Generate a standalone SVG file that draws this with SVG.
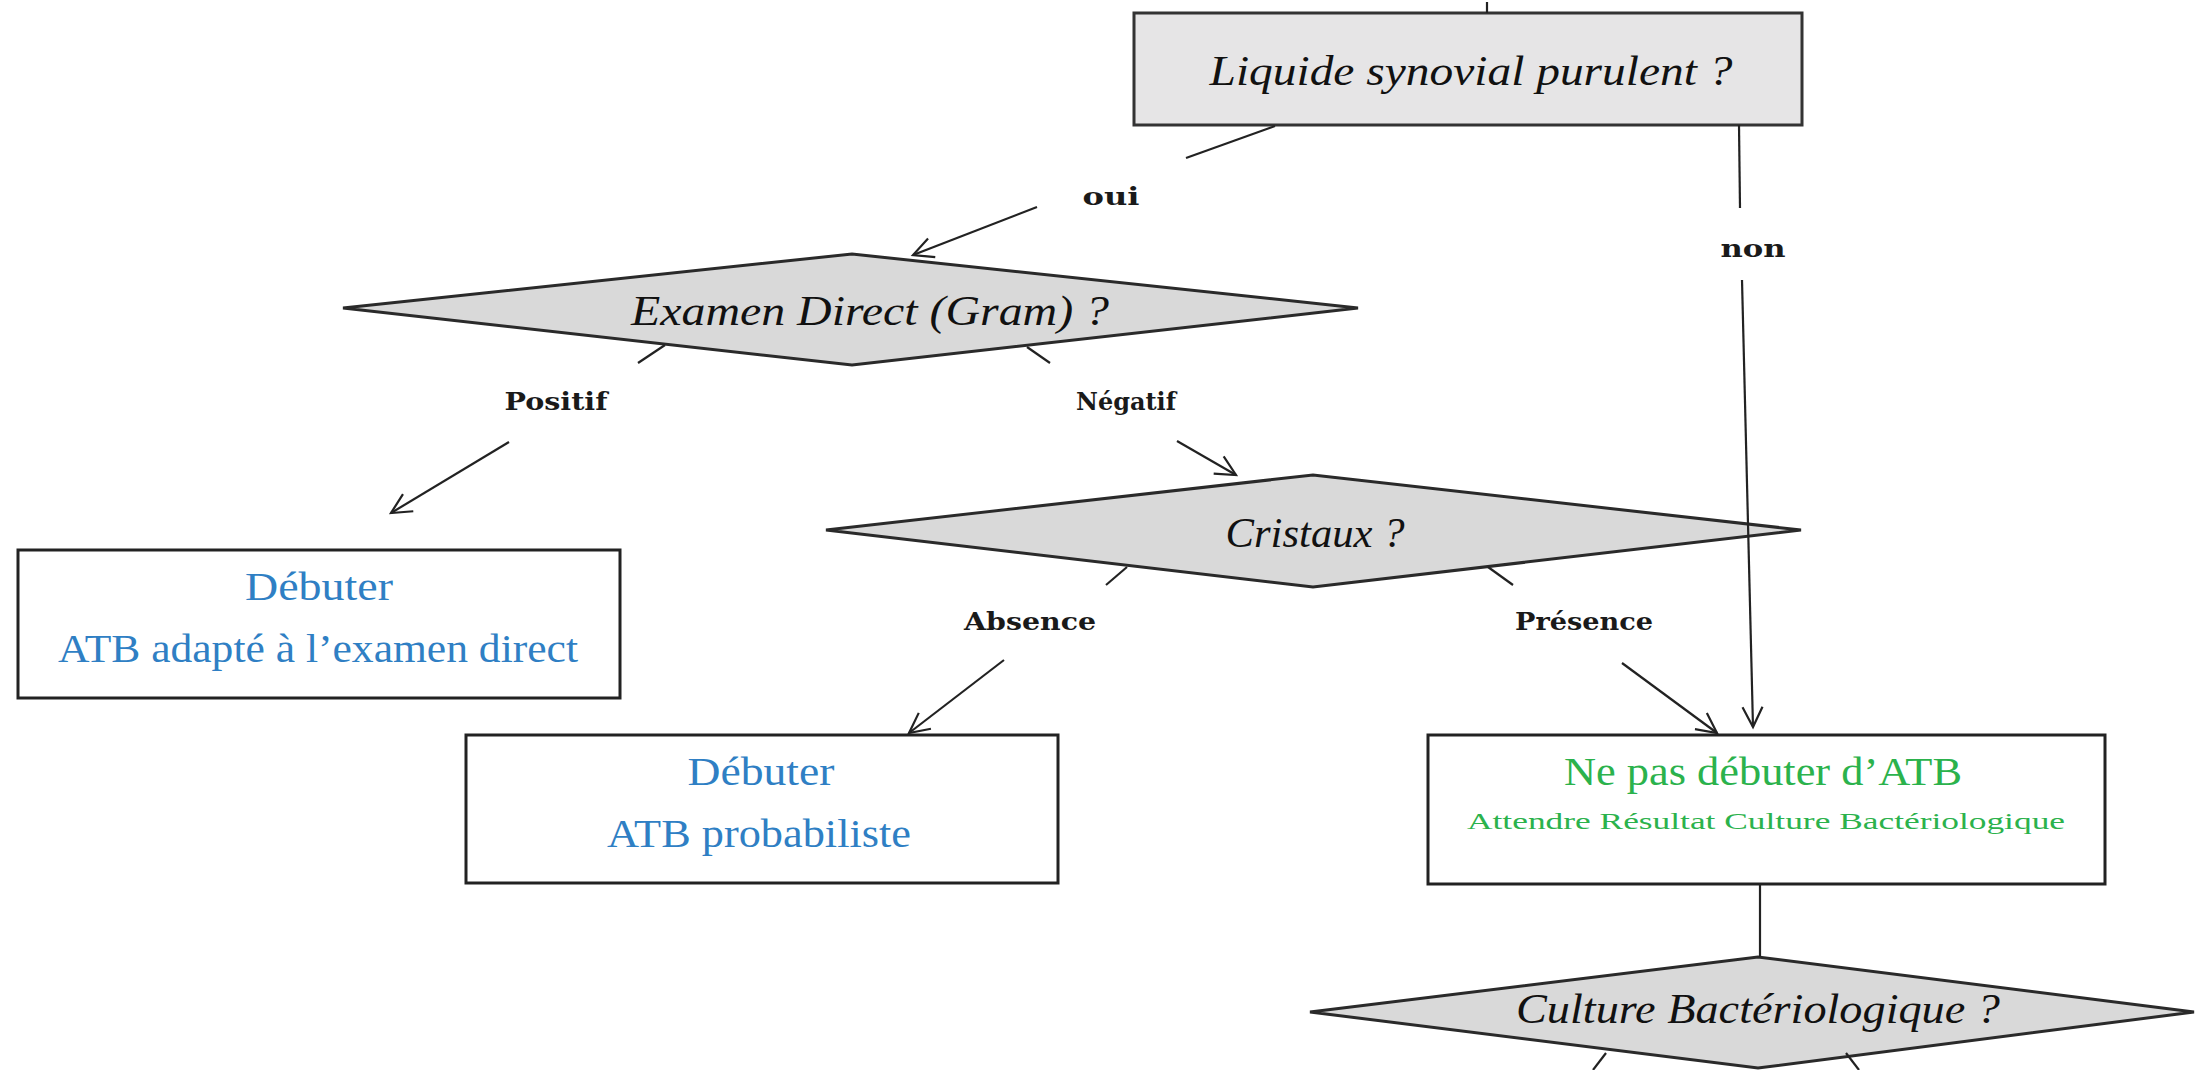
<svg xmlns="http://www.w3.org/2000/svg" width="2208" height="1070" viewBox="0 0 2208 1070">
<style>
.box{fill:#ffffff;stroke:#222;stroke-width:3}
.qbox{fill:#e6e5e6;stroke:#333;stroke-width:3}
.dia{fill:#d9d9d9;stroke:#2a2a2a;stroke-width:3;stroke-linejoin:miter}
.q{font-family:"Liberation Serif",serif;font-style:italic;font-size:42px;fill:#111;text-anchor:middle}
.blue{font-family:"Liberation Serif",serif;font-size:40px;fill:#2f7fc4;text-anchor:middle}
.green{font-family:"Liberation Serif",serif;font-size:40px;fill:#2bb24c;text-anchor:middle}
.greensm{font-family:"Liberation Serif",serif;font-size:24px;fill:#2bb24c;text-anchor:middle}
.lbl{font-family:"DejaVu Serif",serif;font-weight:bold;font-size:24px;fill:#1a1a1a;text-anchor:middle}
.c{stroke:#222;stroke-width:2.2;fill:none}
.a{marker-end:url(#arr)}
</style>
<defs>
<marker id="arr" markerUnits="userSpaceOnUse" markerWidth="30" markerHeight="30" refX="22" refY="12" orient="auto">
<polyline points="2,2 22,12 2,22" fill="none" stroke="#222" stroke-width="2.2"/>
</marker>
</defs>
<rect width="2208" height="1070" fill="#ffffff"/>
<g id="node-liquide">
<rect class="qbox" x="1134" y="13" width="668" height="112"/>
<text class="q" x="1471" y="85" textLength="523" lengthAdjust="spacingAndGlyphs">Liquide synovial purulent ?</text>
</g>
<g id="node-examen">
<polygon class="dia" points="343,308 852,254 1358,308 852,365"/>
<text class="q" x="870" y="325" textLength="478" lengthAdjust="spacingAndGlyphs">Examen Direct (Gram) ?</text>
</g>
<g id="node-atb-direct">
<rect class="box" x="18" y="550" width="602" height="148"/>
<text class="blue" x="319" y="600" textLength="148" lengthAdjust="spacingAndGlyphs">Débuter</text>
<text class="blue" x="318" y="662" textLength="520" lengthAdjust="spacingAndGlyphs">ATB adapté à l’examen direct</text>
</g>
<g id="node-cristaux">
<polygon class="dia" points="826,530 1313,475 1801,530 1313,587"/>
<text class="q" x="1315" y="547" textLength="179" lengthAdjust="spacingAndGlyphs">Cristaux ?</text>
</g>
<g id="node-atb-proba">
<rect class="box" x="466" y="735" width="592" height="148"/>
<text class="blue" x="761" y="785" textLength="147" lengthAdjust="spacingAndGlyphs">Débuter</text>
<text class="blue" x="759" y="847" textLength="304" lengthAdjust="spacingAndGlyphs">ATB probabiliste</text>
</g>
<g id="node-ne-pas">
<rect class="box" x="1428" y="735" width="677" height="149"/>
<text class="green" x="1763" y="785" textLength="398" lengthAdjust="spacingAndGlyphs">Ne pas débuter d’ATB</text>
<text class="greensm" x="1766" y="829" textLength="598" lengthAdjust="spacingAndGlyphs">Attendre Résultat Culture Bactériologique</text>
</g>
<g id="node-culture">
<polygon class="dia" points="1310,1012 1758,957 2194,1012 1758,1068"/>
<text class="q" x="1758" y="1023" textLength="484" lengthAdjust="spacingAndGlyphs">Culture Bactériologique ?</text>
</g>
<g id="connectors">
<line class="c" x1="1487" y1="2" x2="1487" y2="13"/>
<line class="c" x1="1275" y1="126" x2="1186" y2="158"/>
<line class="c a" x1="1037" y1="207" x2="913" y2="255"/>
<line class="c" x1="1739" y1="125" x2="1740" y2="208"/>
<line class="c a" x1="1742" y1="280" x2="1753" y2="727"/>
<line class="c" x1="665" y1="345" x2="638" y2="363"/>
<line class="c" x1="1027" y1="347" x2="1050" y2="363"/>
<line class="c a" x1="509" y1="442" x2="391" y2="513"/>
<line class="c a" x1="1177" y1="441" x2="1236" y2="475"/>
<line class="c" x1="1127" y1="567" x2="1106" y2="585"/>
<line class="c" x1="1488" y1="567" x2="1513" y2="585"/>
<line class="c a" x1="1004" y1="660" x2="909" y2="733"/>
<line class="c a" x1="1622" y1="663" x2="1717" y2="733"/>
<line class="c" x1="1760" y1="884" x2="1760" y2="957"/>
<line class="c" x1="1606" y1="1053" x2="1593" y2="1070"/>
<line class="c" x1="1846" y1="1053" x2="1859" y2="1070"/>
<text class="lbl" x="1111" y="205" textLength="57" lengthAdjust="spacingAndGlyphs">oui</text>
<text class="lbl" x="1753" y="257" textLength="65" lengthAdjust="spacingAndGlyphs">non</text>
<text class="lbl" x="556" y="410" textLength="103" lengthAdjust="spacingAndGlyphs">Positif</text>
<text class="lbl" x="1126" y="410" textLength="100" lengthAdjust="spacingAndGlyphs">Négatif</text>
<text class="lbl" x="1030" y="630" textLength="132" lengthAdjust="spacingAndGlyphs">Absence</text>
<text class="lbl" x="1584" y="630" textLength="138" lengthAdjust="spacingAndGlyphs">Présence</text>
</g>
</svg>
